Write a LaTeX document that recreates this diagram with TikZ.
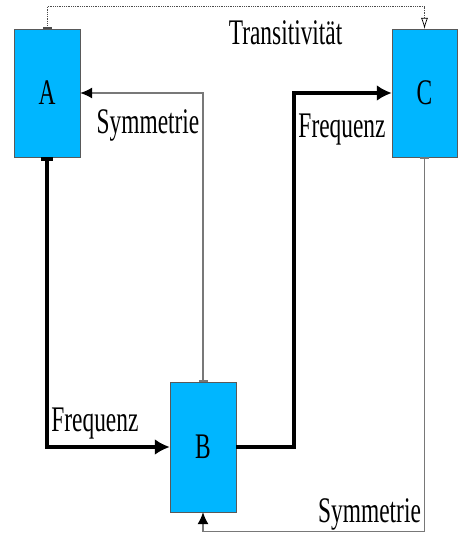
\documentclass[tikz,border=0pt]{standalone}
\usepackage{fontspec}
\setmainfont{Liberation Serif}
\usetikzlibrary{arrows.meta,positioning}
\definecolor{boxblue}{RGB}{0,182,255}
\definecolor{linegrey}{RGB}{120,120,120}

\begin{document}
\begin{tikzpicture}[x=1pt,y=-1pt]
    \newcommand{\narrow}[1]{\scalebox{0.65}[1]{#1}}
    \tikzstyle{block}=[
      draw=black!65,
      fill=boxblue,
      minimum width=66pt,
      minimum height=128pt,
      inner sep=0pt,
      font=\fontsize{36}{40}\selectfont,
    ]
    \tikzstyle{lbltext}=[
      inner sep=0pt,
      anchor=base,
      font=\fontsize{36}{40}\selectfont,
    ]
    \tikzstyle{fedge}=[line width=3.5pt,draw=black,-{Latex[length=15pt,width=16pt]}]
    \tikzstyle{sedge}=[line width=1.1pt,draw=linegrey,{Bar[width=9pt,line width=1.5pt]}-{Latex[length=12pt,width=11pt,color=black]}]
    \tikzstyle{tedge}=[line width=0.7pt,draw=black!70,dash pattern=on 1pt off 0.8pt,{Bar[width=9pt,line width=1.5pt]}-{Latex[length=11pt,width=7pt,open,color=black]}]

    \useasboundingbox (0,0) rectangle (459,533);

    % blocks
    {
      \node[block] (A) at (47,93) {\narrow{A}};
      \node[block, minimum width=65pt] (C) at (424.5,93) {\narrow{C}};
      \node[block, minimum height=130pt] (B) at (203,447) {\narrow{B}};
    }

    % frequenz
    {
      \draw[fedge, {Bar[width=12pt]}-{Latex[length=15pt,width=16pt]}] (A.south) |- (B.west) node[pos=0.695,lbltext,yshift=16pt] {\narrow{Frequenz}};
      \draw[fedge] (B.east) -- ++(58,0) |- (C.west) node[pos=0.745,lbltext,yshift=-44pt] {\narrow{Frequenz}};
    }

    % symmetrie
    {
      \draw[sedge] (B.north) |- (A.east) node[pos=0.724,lbltext,yshift=-40pt] {\narrow{Symmetrie}};
      \draw[sedge] (C.south) -- ++(0,374) -| (B.south) node[pos=0.124,lbltext,yshift=9pt] {\narrow{Symmetrie}};
    }

    % transitivitaet
    {
      \draw[tedge] (A.north) -- ++(0,-22) -| (C.north) node[pos=0.316,lbltext,yshift=-38pt] {\narrow{Transitivität}};
    }
\end{tikzpicture}
\end{document}
